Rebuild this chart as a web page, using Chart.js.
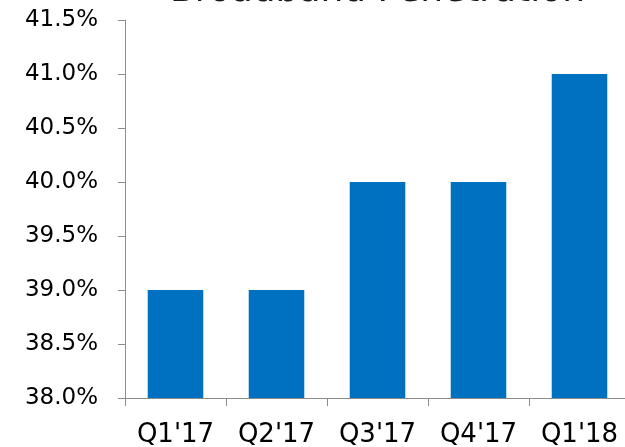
<!DOCTYPE html>
<html>
<head>
<meta charset="utf-8">
<script src="https://cdn.jsdelivr.net/npm/chart.js@4"></script>
<style>
  html, body { margin: 0; padding: 0; background: #fff; }
  #wrap { position: relative; width: 625px; height: 447px; overflow: hidden; }
  #chart { position: absolute; left: 0; top: -40px; }
</style>
</head>
<body>
<div id="wrap">
  <canvas id="chart" width="635" height="487"></canvas>
</div>
<script>
// Broadband penetration by quarter (percent)
const quarters = ["Q1'17", "Q2'17", "Q3'17", "Q4'17", "Q1'18"];
const penetration = [39.0, 39.0, 40.0, 40.0, 41.0];
const yMin = 38.0;
const yMax = 41.5;
const yStep = 0.5;
const chartTitle = 'Broadband Penetration';

const axisColor = '#8c8c8c';
const fontFamily = 'DejaVu Sans, Verdana, sans-serif';

// Title centred over the plot area (the original is cropped at the top)
const plotTitle = {
    id: 'plotTitle',
    afterDraw(chart) {
        const c = chart.ctx;
        const area = chart.chartArea;
        c.save();
        c.font = '36px ' + fontFamily;
        c.fillStyle = '#1a1a1a';
        c.textAlign = 'center';
        c.textBaseline = 'alphabetic';
        c.fillText(chartTitle, (area.left + area.right) / 2, 41);
        c.restore();
    }
};

const ctx = document.getElementById('chart');
new Chart(ctx, {
    type: 'bar',
    data: {
        labels: quarters,
        datasets: [{
            label: chartTitle,
            data: penetration,
            backgroundColor: '#0070c0',
            borderWidth: 0,
            categoryPercentage: 1.0,
            barPercentage: 0.55
        }]
    },
    plugins: [plotTitle],
    options: {
        responsive: false,
        animation: false,
        devicePixelRatio: 1,
        layout: { padding: { left: 0, right: 5, top: 60, bottom: 0 } },
        plugins: {
            legend: { display: false },
            tooltip: { enabled: false },
            title: { display: false }
        },
        scales: {
            x: {
                grid: {
                    drawOnChartArea: false,
                    drawTicks: true,
                    tickLength: 8,
                    color: axisColor
                },
                border: { color: axisColor, width: 1 },
                ticks: {
                    color: '#000',
                    padding: 14,
                    font: { family: fontFamily, size: 26 }
                },
                afterFit: function(scale) { scale.height = 49; }
            },
            y: {
                min: yMin,
                max: yMax,
                grid: {
                    drawOnChartArea: false,
                    drawTicks: true,
                    tickLength: 7,
                    color: axisColor
                },
                border: { color: axisColor, width: 1 },
                ticks: {
                    stepSize: yStep,
                    color: '#000',
                    padding: 20,
                    font: { family: fontFamily, size: 23 },
                    callback: function(value) {
                        return value.toFixed(1) + '%';
                    }
                },
                afterFit: function(scale) { scale.width = 125; }
            }
        }
    }
});
</script>
</body>
</html>
